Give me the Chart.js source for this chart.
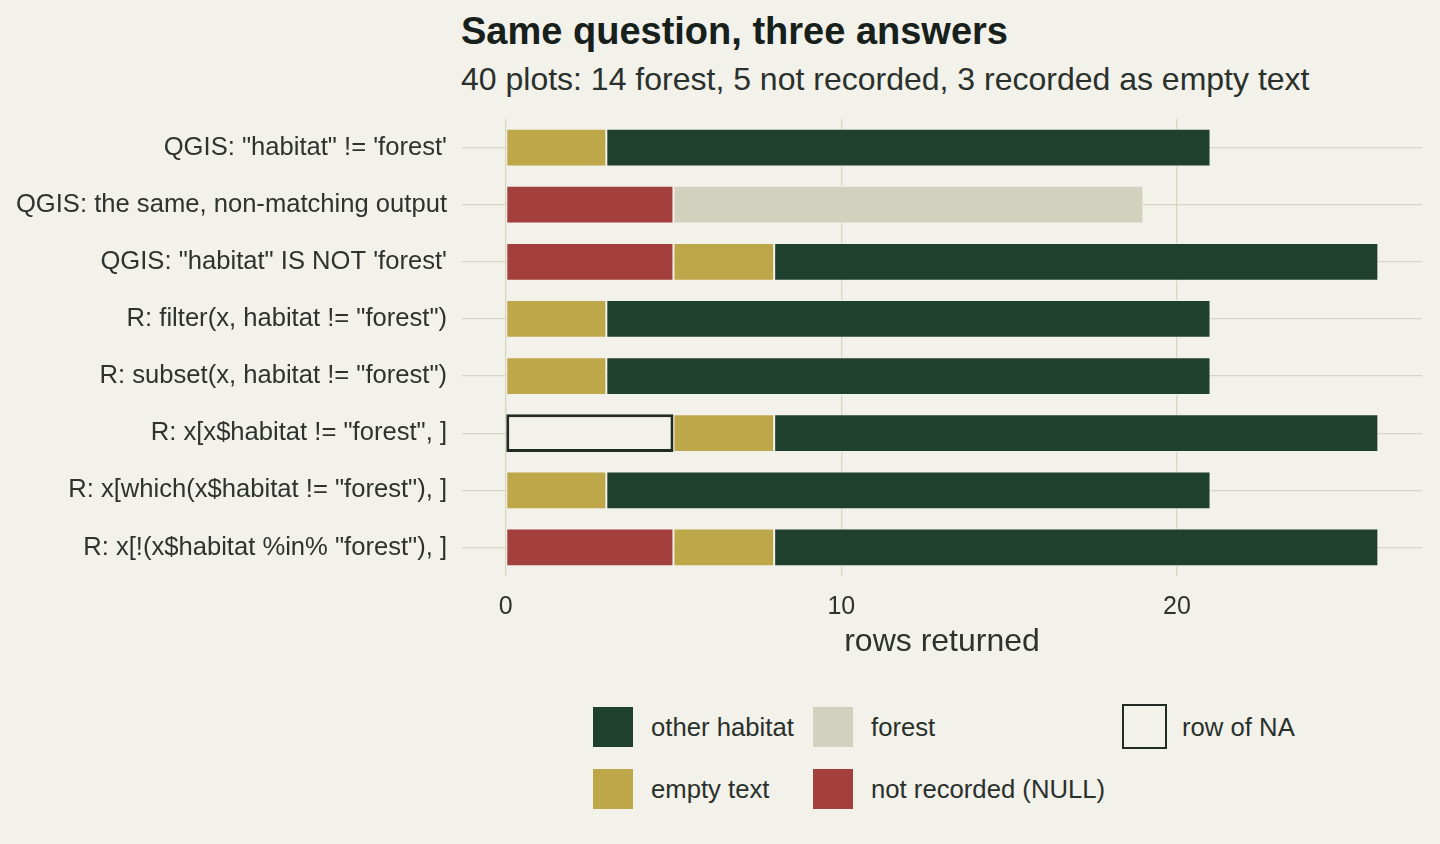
<!DOCTYPE html>
<html>
<head>
<meta charset="utf-8">
<script src="https://cdn.jsdelivr.net/npm/chart.js@4"></script>
<style>
  body { margin: 0; background: #f2f1ea; font-family: "Liberation Sans", Arial, sans-serif; }
  #wrap { position: relative; width: 1440px; height: 844px; overflow: hidden; }
  #title { position: absolute; left: 461px; top: 10px; font-size: 38px; font-weight: bold; color: #17201a; white-space: nowrap; }
  #subtitle { position: absolute; left: 461px; top: 61px; font-size: 32px; color: #2a302b; white-space: nowrap; }
  #box { position: absolute; left: 0; top: 0; width: 1440px; height: 700px; }
  .key { position: absolute; width: 40px; height: 40px; box-sizing: border-box; }
  .lab { position: absolute; font-size: 25.7px; color: #2a302b; white-space: nowrap; line-height: 40px; }
</style>
</head>
<body>
<div id="wrap">
  <div id="title">Same question, three answers</div>
  <div id="subtitle">40 plots: 14 forest, 5 not recorded, 3 recorded as empty text</div>
  <div id="box"><canvas id="chart"></canvas></div>
  <div id="legend"></div>
</div>
<script>
// data
const categories = [
  'QGIS: "habitat" != \'forest\'',
  'QGIS: the same, non-matching output',
  'QGIS: "habitat" IS NOT \'forest\'',
  'R: filter(x, habitat != "forest")',
  'R: subset(x, habitat != "forest")',
  'R: x[x$habitat != "forest", ]',
  'R: x[which(x$habitat != "forest"), ]',
  'R: x[!(x$habitat %in% "forest"), ]'
];
const rowOfNA     = [0, 0, 0, 0, 0, 5, 0, 0];
const notRecorded = [0, 5, 5, 0, 0, 0, 0, 5];
const emptyText   = [3, 0, 3, 3, 3, 3, 3, 3];
const forest      = [0, 14, 0, 0, 0, 0, 0, 0];
const otherHabitat = [18, 0, 18, 18, 18, 18, 18, 18];
const xTicks = [0, 10, 20];

const bg = '#f2f1ea';
const gridCol = '#d7d6c4';
const textCol = '#2e332f';

const noZero = arr => arr.map(v => v === 0 ? null : v);

const datasets = [
  { label: 'row of NA', data: noZero(rowOfNA), backgroundColor: bg, borderColor: '#1f2b24', borderWidth: 3 },
  { label: 'not recorded (NULL)', data: noZero(notRecorded), backgroundColor: '#a33f3d', borderColor: bg, borderWidth: 1 },
  { label: 'empty text', data: noZero(emptyText), backgroundColor: '#bea748', borderColor: bg, borderWidth: 1 },
  { label: 'forest', data: noZero(forest), backgroundColor: '#d2d1bd', borderColor: bg, borderWidth: 1 },
  { label: 'other habitat', data: noZero(otherHabitat), backgroundColor: '#1f402e', borderColor: bg, borderWidth: 1 }
];
datasets.forEach(d => { d.barPercentage = 0.66; d.categoryPercentage = 1; d.borderSkipped = false; });

const ctx = document.getElementById('chart').getContext('2d');
const chart = new Chart(ctx, {
  type: 'bar',
  data: { labels: categories, datasets: datasets },
  options: {
    indexAxis: 'y',
    responsive: true,
    maintainAspectRatio: false,
    animation: false,
    layout: { padding: { top: 119, bottom: 39, left: 0, right: 18 } },
    plugins: { legend: { display: false }, tooltip: { enabled: false } },
    scales: {
      x: {
        stacked: true,
        min: -1.3,
        max: 27.3,
        afterBuildTicks: s => { s.ticks = xTicks.map(v => ({ value: v })); },
        afterFit: s => { s.height = 85; },
        grid: { color: gridCol, lineWidth: 1.3, drawTicks: false },
        border: { display: false },
        ticks: { color: textCol, font: { family: 'Liberation Sans', size: 25 }, padding: 16 },
        title: { display: true, text: 'rows returned', color: textCol,
                 font: { family: 'Liberation Sans', size: 32 }, padding: 0 }
      },
      y: {
        stacked: true,
        afterFit: s => { s.width = 462; },
        grid: { color: gridCol, lineWidth: 1.3, drawTicks: false, offset: false },
        border: { display: false },
        ticks: { color: textCol, font: { family: 'Liberation Sans', size: 25.6 }, padding: 15 }
      }
    }
  }
});

// legend in ggplot's column order
const legendCells = [
  ['other habitat', 593, 707], ['empty text', 593, 769],
  ['forest', 813, 707], ['not recorded (NULL)', 813, 769],
  ['row of NA', 1124, 707]
];
const legend = document.getElementById('legend');
legendCells.forEach(([name, x, y]) => {
  const ds = datasets.find(d => d.label === name);
  const key = document.createElement('div');
  key.className = 'key';
  key.style.left = x + 'px';
  key.style.top = y + 'px';
  key.style.background = ds.backgroundColor;
  if (name === 'row of NA') {
    key.style.left = (x - 2) + 'px';
    key.style.top = (y - 3) + 'px';
    key.style.width = '45px';
    key.style.height = '45px';
    key.style.border = '2.5px solid ' + ds.borderColor;
  }
  const lab = document.createElement('div');
  lab.className = 'lab';
  lab.textContent = name;
  lab.style.left = (x + 58) + 'px';
  lab.style.top = y + 'px';
  legend.appendChild(key);
  legend.appendChild(lab);
});
</script>
</body>
</html>
